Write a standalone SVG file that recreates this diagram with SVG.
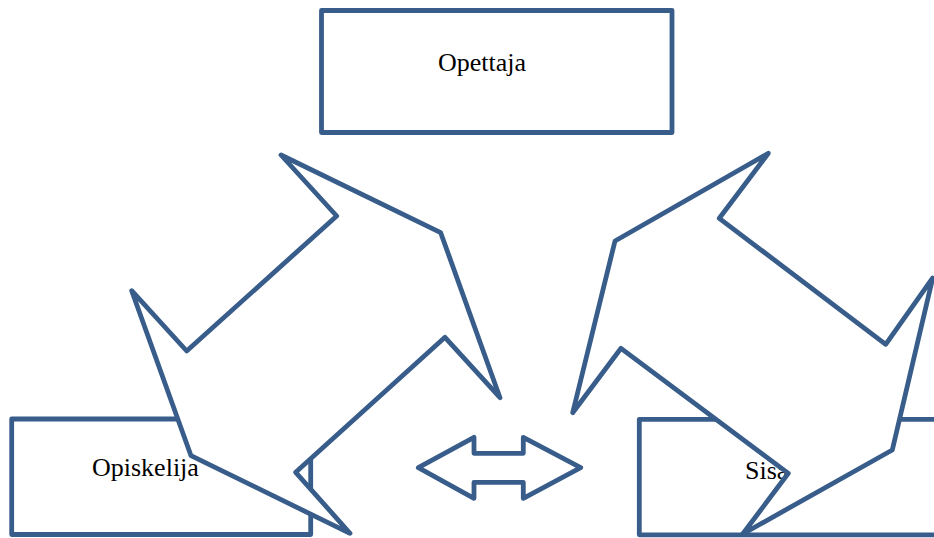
<svg xmlns="http://www.w3.org/2000/svg" width="934" height="538" viewBox="0 0 934 538">
<style>
.s{fill:#fff;stroke:#385D8A;stroke-width:4.8;stroke-linejoin:round}
.t{font-family:"Liberation Serif","Times New Roman",serif;font-size:26px;fill:#000}
</style>
<rect width="934" height="538" fill="#fff"/>
<g id="opettaja">
<rect class="s" x="321.5" y="10.5" width="350.5" height="122"/>
<text class="t" x="438" y="71">Opettaja</text>
</g>
<g id="opiskelija">
<rect class="s" x="11.7" y="419" width="299" height="115.5"/>
<text class="t" x="92" y="476">Opiskelija</text>
</g>
<g id="sisalto">
<rect class="s" x="639.3" y="419.3" width="320" height="115.5"/>
<text class="t" x="745" y="479">Sisa</text>
</g>
<g id="connectors">
<polygon class="s" points="281,155 440.7,232.7 500,397.7 445,337.3 295.7,472.3 350,533.3 191,455.7 131.7,290.7 186.7,351 336.7,216"/>
<polygon class="s" points="768.3,153.3 719.3,218.3 885.7,344.3 932.7,278 892.3,450 742.7,534 788.3,473.3 621,348.3 572.7,412.7 615,241"/>
<polygon class="s" points="418.3,467.7 474,437.3 474,453.3 523.3,453.3 523.3,437.3 580.7,467.7 523.3,498.3 523.3,482.3 474,482.3 474,498.3"/>
</g>
</svg>
